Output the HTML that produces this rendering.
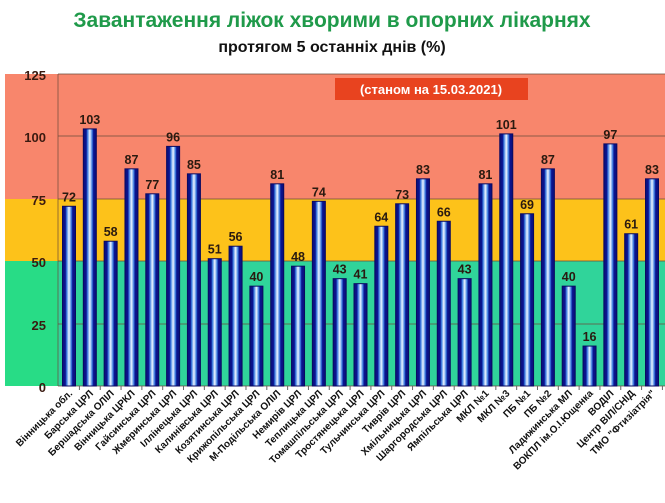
<!DOCTYPE html>
<html><head><meta charset="utf-8"><style>
body{margin:0;background:#fff;width:665px;height:498px;overflow:hidden}
svg text{font-family:"Liberation Sans",sans-serif;font-weight:bold}
</style></head><body>
<svg width="665" height="498" viewBox="0 0 665 498">
<defs>
<linearGradient id="b" x1="0" x2="1" y1="0" y2="0">
<stop offset="0" stop-color="#0a0f7a"/><stop offset="0.22" stop-color="#0a1490"/><stop offset="0.32" stop-color="#3a7ae0"/><stop offset="0.5" stop-color="#eef6ff"/><stop offset="0.68" stop-color="#3a7ae0"/><stop offset="0.78" stop-color="#0a1490"/><stop offset="1" stop-color="#0a0f7a"/>
</linearGradient>
</defs>
<text x="332" y="27" text-anchor="middle" font-size="21" fill="#1f9a4a">Завантаження  ліжок хворими  в опорних лікарнях</text>
<text x="332" y="52" text-anchor="middle" font-size="16" fill="#111">протягом  5 останніх днів (%)</text>
<rect x="5" y="74" width="660" height="126" fill="#f8866c"/>
<rect x="5" y="199" width="660" height="63" fill="#fdc21a"/>
<rect x="5" y="261" width="660" height="125" fill="#28dc86"/>
<rect x="58" y="261" width="607" height="125" fill="#30d49a"/>
<g stroke="#6a4a3a" stroke-width="0.7">
<line x1="58" y1="74" x2="665" y2="74"/><line x1="58" y1="136" x2="665" y2="136"/><line x1="58" y1="199" x2="665" y2="199"/><line x1="58" y1="261" x2="665" y2="261"/><line x1="58" y1="324" x2="665" y2="324"/><line x1="58" y1="386" x2="665" y2="386"/><line x1="58" y1="74" x2="58" y2="386"/>
</g>
<g font-size="13" fill="#3a1a10" text-anchor="end">
<text x="46" y="80">125</text><text x="46" y="142">100</text><text x="46" y="205">75</text><text x="46" y="267">50</text><text x="46" y="330">25</text><text x="46" y="392">0</text>
</g>
<rect x="335" y="78" width="193" height="22" fill="#e8431f"/>
<text x="431" y="94" text-anchor="middle" font-size="13" fill="#fff">(станом на 15.03.2021)</text>
<g id="bars"></g>
</svg>
<script>
var d=[["Вінницька обл.",72],["Барська ЦРЛ",103],["Бершадська ОЛІЛ",58],["Вінницька ЦРКЛ",87],["Гайсинська ЦРЛ",77],["Жмеринська ЦРЛ",96],["Іллінецька ЦРЛ",85],["Калинівська ЦРЛ",51],["Козятинська ЦРЛ",56],["Крижопільська ЦРЛ",40],["М-Подільська ОЛІЛ",81],["Немирів ЦРЛ",48],["Теплицька ЦРЛ",74],["Томашпільська ЦРЛ",43],["Тростянецька ЦРЛ",41],["Тульчинська ЦРЛ",64],["Тиврів ЦРЛ",73],["Хмільницька ЦРЛ",83],["Шаргородська  ЦРЛ",66],["Ямпільська ЦРЛ",43],["МКЛ №1",81],["МКЛ №3",101],["ПБ №1",69],["ПБ №2",87],["Ладижинська МЛ",40],["ВОКПЛ ім.О.І.Ющенка",16],["ВОДІЛ",97],["Центр ВІЛ/СНІД",61],["ТМО \"Фтизіатрія\"",83]];
var g=document.getElementById('bars'),s='',n=d.length,step=(652-69)/(n-1);
for(var i=0;i<n;i++){var cx=69+i*step,v=d[i][1],y=386-v*2.496;
s+='<rect x="'+(cx-6.5)+'" y="'+y+'" width="13" height="'+(386-y)+'" fill="url(#b)" stroke="#0a0a60" stroke-width="1"/>';
s+='<text x="'+cx+'" y="'+(y-5)+'" text-anchor="middle" font-size="12.5" fill="#2a1a10">'+v+'</text>';
s+='<line x1="'+(cx+step/2)+'" y1="386" x2="'+(cx+step/2)+'" y2="390" stroke="#666"/>';
s+='<text transform="translate('+(cx+4)+',394) rotate(-45)" text-anchor="end" font-size="10" fill="#111">'+d[i][0].replace(/"/g,'&quot;')+'</text>';}
g.innerHTML=s;
</script>
</body></html>
